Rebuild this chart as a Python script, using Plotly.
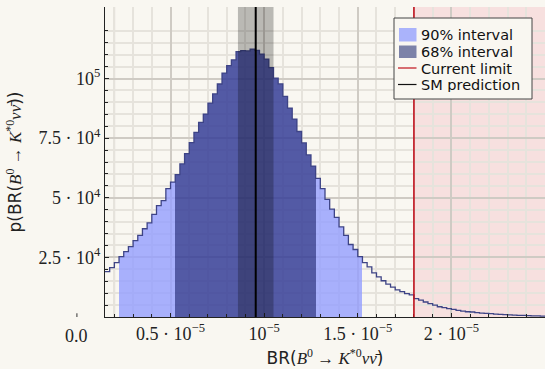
import plotly.graph_objects as go

# ---------------- data ----------------
# histogram bins (left edges, units of 1e-6) and bin width
bin_left_e6 = [1.50, 1.75, 2.00, 2.25, 2.50, 2.75, 3.00, 3.25, 3.50, 3.75,
               4.00, 4.25, 4.50, 4.75, 5.00, 5.25, 5.50, 5.75, 6.00, 6.25,
               6.50, 6.75, 7.00, 7.25, 7.50, 7.75, 8.00, 8.25, 8.50, 8.75,
               9.00, 9.25, 9.50, 9.75, 10.00, 10.25, 10.50, 10.75, 11.00, 11.25,
               11.50, 11.75, 12.00, 12.25, 12.50, 12.75, 13.00, 13.25, 13.50, 13.75,
               14.00, 14.25, 14.50, 14.75, 15.00, 15.25, 15.50, 15.75, 16.00, 16.25,
               16.50, 16.75, 17.00, 17.25, 17.50, 17.75, 18.00, 18.25, 18.50, 18.75,
               19.00, 19.25, 19.50, 19.75, 20.00, 20.25, 20.50, 20.75, 21.00, 21.25,
               21.50, 21.75, 22.00, 22.25, 22.50, 22.75, 23.00, 23.25, 23.50, 23.75,
               24.00, 24.25, 24.50, 24.75]
bin_width_e6 = 0.25
# density values (units of 1e4)
density_e4 = [1.90, 2.07, 2.28, 2.53, 2.74, 2.95, 3.20, 3.42, 3.70, 3.95,
              4.30, 4.67, 4.88, 5.38, 5.66, 5.97, 6.42, 6.85, 7.31, 7.74,
              8.16, 8.51, 8.97, 9.36, 9.77, 10.23, 10.54, 10.78, 11.13, 11.17,
              11.16, 11.23, 11.18, 11.02, 10.81, 10.46, 10.02, 9.78, 9.25, 8.76,
              8.30, 7.78, 7.30, 6.80, 6.33, 5.81, 5.38, 4.93, 4.52, 4.18,
              3.78, 3.42, 3.04, 2.83, 2.53, 2.28, 2.10, 1.85, 1.68, 1.52,
              1.38, 1.25, 1.14, 1.06, 0.98, 0.93, 0.77, 0.71, 0.63, 0.56,
              0.50, 0.43, 0.39, 0.35, 0.32, 0.28, 0.25, 0.22, 0.21, 0.18,
              0.16, 0.15, 0.14, 0.12, 0.11, 0.10, 0.09, 0.08, 0.07, 0.07,
              0.06, 0.05, 0.05, 0.04]

interval90 = (2.25e-6, 15.25e-6)
interval68 = (5.25e-6, 12.75e-6)
sm_prediction = 9.55e-6
sm_band = (8.6e-6, 10.5e-6)
current_limit = 1.8e-5

x_tickvals = [0.5e-5, 1.0e-5, 1.5e-5, 2.0e-5]
x_ticktext = ["0.5 · 10<sup>−5</sup>", "10<sup>−5</sup>", "1.5 · 10<sup>−5</sup>", "2 · 10<sup>−5</sup>"]
y_tickvals = [2.5e4, 5.0e4, 7.5e4, 1.0e5]
y_ticktext = ["2.5 · 10<sup>4</sup>", "5 · 10<sup>4</sup>", "7.5 · 10<sup>4</sup>", "10<sup>5</sup>"]
x_minor = [k * 1e-6 for k in range(2, 25)]
y_minor = [k * 5e3 for k in range(1, 25)]

legend_labels = ["90% interval", "68% interval", "Current limit", "SM prediction"]

x_range = [1.5e-6, 2.5e-5]
y_range = [0, 1.3e5]

# ---------------- styles ----------------
BG = "#f9f7f1"
LIGHT = "rgba(148,158,255,0.80)"
DARK = "rgba(54,62,152,0.85)"
RED = "#c0101c"
SERIF = "Liberation Serif"
SANS = "DejaVu Sans"

# plot-area pixel geometry (for the hand-drawn legend)
PL, PR, PT, PB = 105, 545, 7, 317


def px(xp):
    return (xp - PL) / (PR - PL)


def py(yp):
    return (PB - yp) / (PB - PT)


xs = [b * 1e-6 for b in bin_left_e6]
w = bin_width_e6 * 1e-6
ys = [d * 1e4 for d in density_e4]
centers = [x + w / 2 for x in xs]

colors = []
for x in xs:
    c = x + w / 2
    if interval68[0] <= c <= interval68[1]:
        colors.append(DARK)
    elif interval90[0] <= c <= interval90[1]:
        colors.append(LIGHT)
    else:
        colors.append("rgba(0,0,0,0)")

fig = go.Figure()
fig.add_trace(go.Bar(x=centers, y=ys, width=[w] * len(xs),
                     marker=dict(color=colors, line=dict(width=0)),
                     showlegend=False, hoverinfo="skip"))
step_x = xs + [xs[-1] + w]
step_y = ys + [ys[-1]]
fig.add_trace(go.Scatter(x=step_x, y=step_y, mode="lines", line_shape="hv",
                         line=dict(color="#3e4486", width=1.3),
                         showlegend=False, hoverinfo="skip"))

shapes = [
    dict(type="line", xref="x", yref="paper", x0=2e-6, x1=2e-6, y0=0, y1=1,
         line=dict(color="#cfcbc4", width=1.5), layer="below"),
    dict(type="rect", xref="x", yref="paper", x0=current_limit, x1=x_range[1], y0=0, y1=1,
         fillcolor="rgba(235,50,80,0.11)", line=dict(width=0), layer="between"),
    dict(type="rect", xref="x", yref="paper", x0=sm_band[0], x1=sm_band[1], y0=0, y1=1,
         fillcolor="rgba(0,0,0,0.25)", line=dict(width=0), layer="above"),
    dict(type="line", xref="x", yref="paper", x0=current_limit, x1=current_limit, y0=0, y1=1,
         line=dict(color=RED, width=1.6), layer="above"),
    dict(type="line", xref="x", yref="paper", x0=sm_prediction, x1=sm_prediction, y0=0, y1=1,
         line=dict(color="#000000", width=2), layer="above"),
]
x0_paper = (0 - x_range[0]) / (x_range[1] - x_range[0])
shapes.append(dict(type="line", xref="paper", yref="paper", x0=x0_paper, x1=x0_paper,
                   y0=0, y1=0.012, line=dict(color="#333333", width=1)))

# hand-drawn legend
LX0, LX1, LY0, LY1 = 394, 532, 18, 99
shapes.append(dict(type="rect", xref="paper", yref="paper", x0=px(LX0), x1=px(LX1),
                   y0=py(LY1), y1=py(LY0), fillcolor=BG,
                   line=dict(color="#444444", width=1), layer="above"))
row_y = [34.5, 51.5, 68.0, 84.5]
shapes.append(dict(type="rect", xref="paper", yref="paper", x0=px(399), x1=px(416.5),
                   y0=py(41.5), y1=py(28), fillcolor="#aab3fb", line=dict(width=0), layer="above"))
shapes.append(dict(type="rect", xref="paper", yref="paper", x0=px(399), x1=px(416.5),
                   y0=py(58), y1=py(45.5), fillcolor="#7c82a8", line=dict(width=0), layer="above"))
shapes.append(dict(type="line", xref="paper", yref="paper", x0=px(398), x1=px(416.5),
                   y0=py(row_y[2]), y1=py(row_y[2]), line=dict(color=RED, width=1.2), layer="above"))
shapes.append(dict(type="line", xref="paper", yref="paper", x0=px(398), x1=px(416.5),
                   y0=py(row_y[3]), y1=py(row_y[3]), line=dict(color="#111111", width=1.2), layer="above"))

annotations = [dict(text="0.0", xref="paper", yref="paper", x=x0_paper, y=0,
                    xanchor="center", yanchor="top", yshift=-7, showarrow=False,
                    font=dict(family=SERIF, size=18, color="#222222"))]
for lab, ry in zip(legend_labels, row_y):
    annotations.append(dict(text=lab, xref="paper", yref="paper", x=px(420), y=py(ry),
                            xanchor="left", yanchor="middle", showarrow=False,
                            height=15, borderpad=0,
                            font=dict(family=SANS, size=14.5, color="#111111")))

fig.update_layout(
    width=545, height=369,
    margin=dict(l=105, r=0, t=7, b=52),
    paper_bgcolor=BG, plot_bgcolor=BG,
    bargap=0, barmode="overlay",
    shapes=shapes, annotations=annotations,
    showlegend=False,
    font=dict(family=SERIF, size=18, color="#222222"),
)

fig.update_xaxes(
    range=x_range, tickmode="array", tickvals=x_tickvals, ticktext=x_ticktext,
    showline=True, linecolor="#222222", linewidth=1, mirror=False,
    ticks="inside", ticklen=4, tickcolor="#222222",
    showgrid=True, gridcolor="#cfcbc4", gridwidth=1.5, zeroline=False,
    minor=dict(tickvals=x_minor, ticks="inside", ticklen=3, tickcolor="#222222",
               showgrid=True, gridcolor="#e6e3dc", gridwidth=1.5),
    title=dict(text="<span style=\"font-family:DejaVu Sans\">BR(</span><i>B</i><sup>0</sup> → <i>K</i><sup>*0</sup><i>νν̄</i><span style=\"font-family:DejaVu Sans\">)</span>",
               font=dict(family=SERIF, size=17), standoff=9),
)
fig.update_yaxes(
    range=y_range, tickmode="array", tickvals=y_tickvals, ticktext=y_ticktext,
    showline=True, linecolor="#222222", linewidth=1, mirror=False,
    ticks="inside", ticklen=4, tickcolor="#222222",
    showgrid=True, gridcolor="#cfcbc4", gridwidth=1.5, zeroline=False,
    minor=dict(tickvals=y_minor, ticks="inside", ticklen=3, tickcolor="#222222",
               showgrid=True, gridcolor="#e6e3dc", gridwidth=1.5),
    title=dict(text="<span style=\"font-family:DejaVu Sans\">p(BR(</span><i>B</i><sup>0</sup> → <i>K</i><sup>*0</sup><i>νν̄</i><span style=\"font-family:DejaVu Sans\">))</span>",
               font=dict(family=SERIF, size=17), standoff=12),
)

fig.write_html("out.html")
